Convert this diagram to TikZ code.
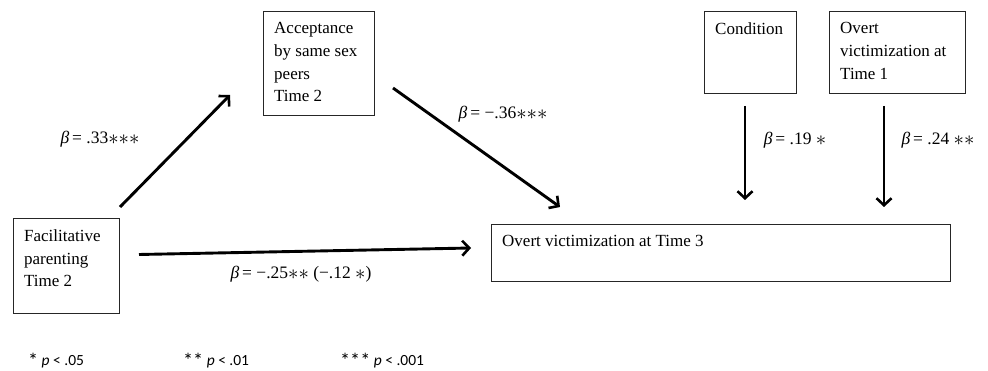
\documentclass[tikz,border=0pt]{standalone}
\usepackage{fontspec}
\setmainfont{Liberation Serif}
\newfontfamily\notefont{Carlito}
\usetikzlibrary{arrows.meta}
\newcommand{\st}{\raisebox{-0.05em}{\scalebox{1.2}{$\ast$}}}
\newcommand{\nst}{\raisebox{-0.12em}{\scalebox{1.3}{*}}}
\tikzset{
  box/.style={draw=black!85, line width=0.9pt, inner sep=0pt, anchor=north west},
  boxtext/.style={anchor=north west, inner sep=0pt, align=left, font=\fontsize{17}{22.6}\selectfont},
  coef/.style={inner sep=0pt, font=\fontsize{17.5}{20}\selectfont},
  note/.style={inner sep=0pt, anchor=base west, font=\notefont\fontsize{15.5}{18}\selectfont},
  path/.style={line width=2.9pt, -{Straight Barb[length=7pt,width=15pt,line width=2.6pt]}}
}
\begin{document}
\begin{tikzpicture}[x=1pt,y=-1pt]
\useasboundingbox[fill=white] (0,0) rectangle (988,371);
% boxes
\node[box, minimum width=111pt, minimum height=104pt] (acc) at (263,11) {};
\node[box, minimum width=106pt, minimum height=95pt] (fac) at (13,218) {};
\node[box, minimum width=92pt, minimum height=82pt] (cond) at (704,11) {};
\node[box, minimum width=136pt, minimum height=82pt] (ov1) at (829,11) {};
\node[box, minimum width=459pt, minimum height=57pt] (ov3) at (491,224) {};
% box texts
\node[boxtext, xshift=11pt, yshift=-11.5pt] (acct) at (acc.north west) {Acceptance\\by same sex\\peers\\Time 2};
\node[boxtext, xshift=11pt, yshift=-11.5pt] (fact) at (fac.north west) {Facilitative\\parenting\\Time 2};
\node[boxtext, xshift=11pt, yshift=-11.5pt] (condt) at (cond.north west) {Condition};
\node[boxtext, xshift=11pt, yshift=-11.5pt] (ov1t) at (ov1.north west) {Overt\\victimization at\\Time 1};
\node[boxtext, xshift=11pt, yshift=-11.5pt] (ov3t) at (ov3.north west) {Overt victimization at Time 3};
% connector end points
\coordinate (a1s) at (120,207);
\coordinate (a1e) at (230,95);
\coordinate (a2s) at (393,88);
\coordinate (a2e) at (560,207);
\coordinate (a3s) at (139,254.5);
\coordinate (a3e) at (471,248);
\coordinate (a4s) at (745,106);
\coordinate (a4e) at (745,200);
\coordinate (a5s) at (884,106);
\coordinate (a5e) at (884,207);
\draw[path] (a1s) -- (a1e);
\draw[path] (a2s) -- (a2e);
\draw[path] (a3s) -- (a3e);
\draw[path] (a4s) -- (a4e);
\draw[path] (a5s) -- (a5e);
% coefficients
\node[coef] (c1) at (100,139) {\textit{β}\,= .33\st\st\st};
\node[coef] (c2) at (503,114) {\textit{β}\,= −.36\st\st\st};
\node[coef] (c3) at (301,274) {\textit{β}\,= −.25\st\st{} (−.12 \st)};
\node[coef] (c4) at (795,140) {\textit{β}\,= .19 \st};
\node[coef] (c5) at (938,140) {\textit{β}\,= .24 \st\st};
% notes
\node[note] (n1) at (28,366) {\nst{} \textit{p} < .05};
\node[note] (n2) at (183,366) {\nst\nst{} \textit{p} < .01};
\node[note] (n3) at (340,366) {\nst\nst\nst{} \textit{p} < .001};
\end{tikzpicture}
\end{document}
